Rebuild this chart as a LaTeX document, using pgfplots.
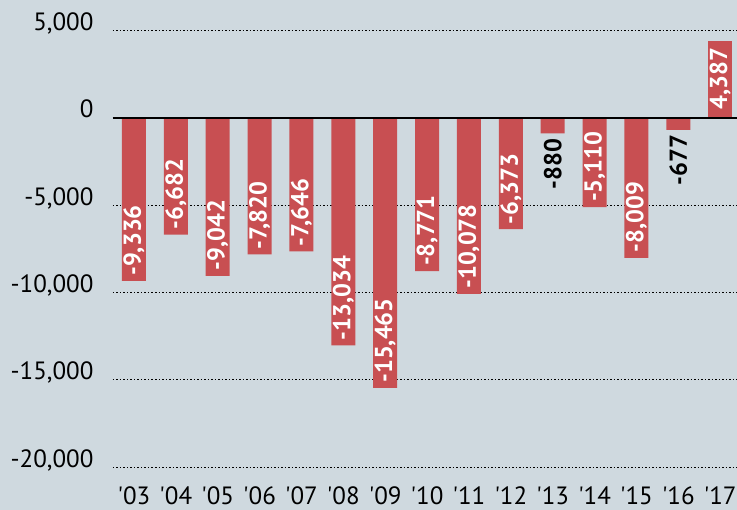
\documentclass[border=0pt]{standalone}
\usepackage{fontspec}
\setmainfont{PT Sans}
\usepackage{pgfplots}
\pgfplotsset{compat=1.18}
\definecolor{bg}{HTML}{CFD9DF}
\definecolor{barred}{HTML}{C84F52}
\begin{document}
\begin{tikzpicture}[x=1pt,y=1pt]
\fill[bg] (0,0) rectangle (737,510);
\begin{axis}[
  at={(113pt,25.5pt)}, anchor=south west,
  scale only axis, width=624pt, height=484.5pt,
  xmin=-0.5, xmax=14.4, ymin=-21000, ymax=6762,
  axis line style={draw=none}, major tick length=0pt,
  ytick={-20000,-15000,-10000,-5000,0,5000},
  scaled y ticks=false,
  ymajorgrids,
  grid style={black, line width=1pt, dash pattern=on 1.5pt off 2pt},
  /pgf/number format/.cd, 1000 sep={,}, assume math mode=true,
  /pgfplots/.cd,
  yticklabel style={anchor=base east, xshift=-16pt, font=\fontsize{25}{30}\selectfont},
  xtick={0,...,14},
  xticklabels={\textquotesingle03,\textquotesingle04,\textquotesingle05,\textquotesingle06,\textquotesingle07,\textquotesingle08,\textquotesingle09,\textquotesingle10,\textquotesingle11,\textquotesingle12,\textquotesingle13,\textquotesingle14,\textquotesingle15,\textquotesingle16,\textquotesingle17},
  xticklabel style={anchor=base, yshift=-20pt, inner sep=1pt, font=\fontsize{25}{30}\selectfont},
  ybar, bar width=24pt, bar shift=0pt,
  every node near coord/.append style={rotate=90, font=\bfseries\fontsize{24.5}{28}\selectfont, inner sep=5pt},
]
\addplot[fill=barred, draw=none, nodes near coords,
  every node near coord/.append style={anchor=west, text=white}]
  coordinates {(0,-9336) (1,-6682) (2,-9042) (3,-7820) (4,-7646) (5,-13034) (6,-15465) (7,-8771) (8,-10078) (9,-6373) (11,-5110) (12,-8009)};
\addplot[fill=barred, draw=none, nodes near coords,
  every node near coord/.append style={anchor=east, text=black}]
  coordinates {(10,-880) (13,-677)};
\addplot[fill=barred, draw=none, nodes near coords,
  every node near coord/.append style={anchor=east, text=white, inner sep=6pt}]
  coordinates {(14,4387)};
\addplot[ybar=0pt, sharp plot, black, line width=2.5pt] coordinates {(-0.5,0) (14.4,0)};
\end{axis}
\pgfresetboundingbox
\path (0,0) rectangle (737,510);
\end{tikzpicture}
\end{document}
